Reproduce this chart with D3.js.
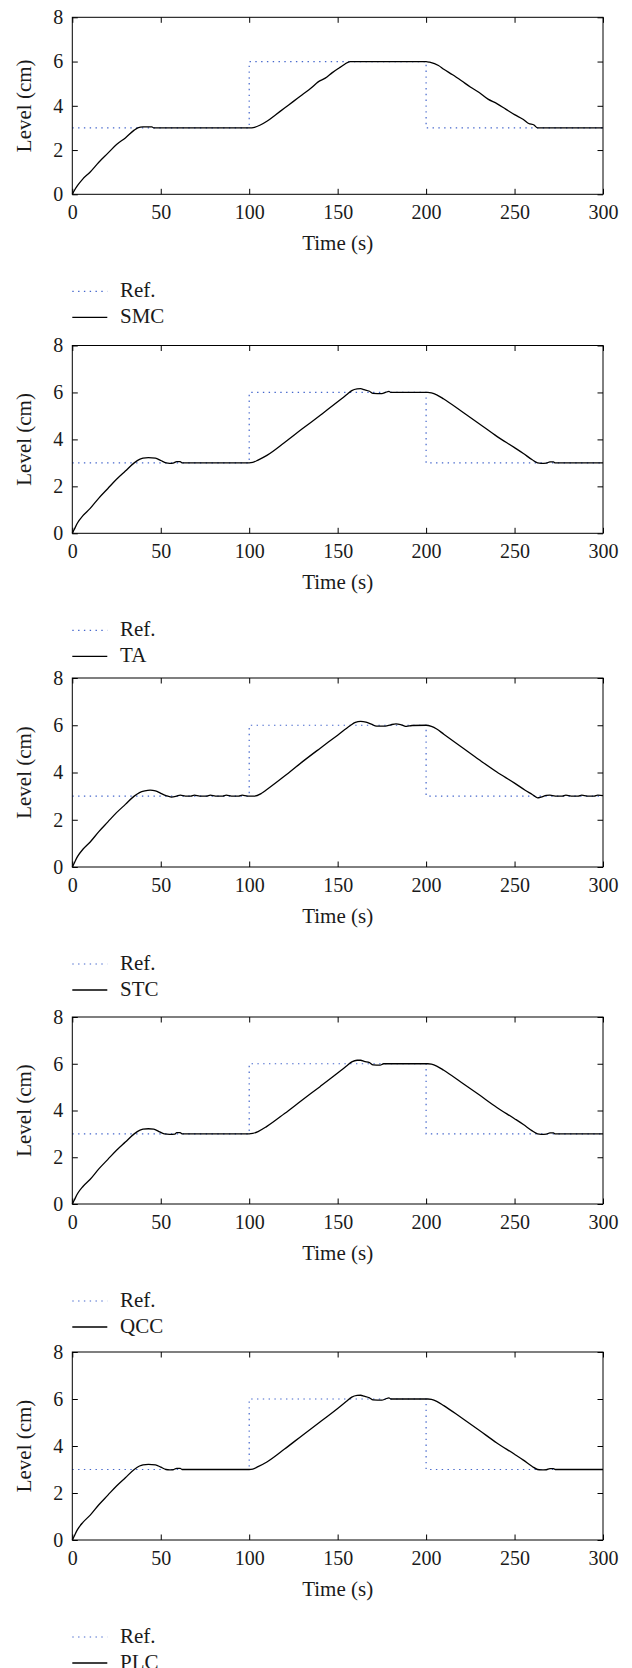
<!DOCTYPE html>
<html>
<head>
<meta charset="utf-8">
<script src="https://cdnjs.cloudflare.com/ajax/libs/d3/7.8.5/d3.min.js"></script>
<style>
  body { margin: 0; background: #fff; }
  svg text { font-family: "Liberation Serif", "DejaVu Serif", serif; fill: #1a1a1a; }
</style>
</head>
<body>
<script>
const width = 632;
const height = 1668;

const xTicks = [0, 50, 100, 150, 200, 250, 300];
const yTicks = [0, 2, 4, 6, 8];

// reference set point (cm)
const refSeries = [[0, 3], [100, 3], [100, 6], [200, 6], [200, 3], [300, 3]];

// controller responses, [time s, level cm]
const smcSeries = [[0,0],[1,0.15],[3,0.4],[6,0.7],[10,1.0],[15,1.45],[20,1.85],[25,2.25],[30,2.55],[35,2.9],[37,3.0],[40,3.05],[45,3.05],[46,3.0],
  [100,3.0],[103,3.03],[106,3.12],[110,3.3],[115,3.6],[120,3.9],[125,4.2],[130,4.5],[135,4.8],[139,5.08],[143,5.25],[147,5.5],[151,5.72],[154,5.88],[157,6.0],
  [200,6.0],[202,5.97],[207,5.82],[210,5.65],[215,5.4],[220,5.13],[225,4.85],[230,4.6],[235,4.3],[240,4.1],[245,3.85],[250,3.6],[255,3.38],[258,3.2],[261,3.13],[263,3.0],[300,3.0]];

const taSeries = [[0,0],[1,0.15],[3,0.45],[6,0.75],[10,1.05],[15,1.5],[20,1.9],[25,2.3],[30,2.65],[35,3.0],[38,3.15],[40,3.2],[43,3.22],[47,3.2],[50,3.1],[53,3.0],[55,2.98],[57,2.99],[59,3.05],[61,3.05],[62,3.0],
  [100,3.0],[102,3.02],[105,3.12],[110,3.32],[120,3.87],[130,4.45],[140,5.02],[150,5.6],[155,5.9],[158,6.08],[161,6.15],[163,6.16],[165,6.12],[168,6.05],[170,5.96],[175,5.95],[177,6.0],[179,6.05],[180,6.0],
  [201,6.0],[203,5.98],[206,5.9],[210,5.72],[220,5.2],[230,4.67],[240,4.13],[250,3.65],[255,3.4],[260,3.13],[263,3.0],[265,2.98],[268,2.99],[270,3.04],[272,3.04],[273,3.0],[300,3.0]];

const stcSeries = [[0,0],[1,0.15],[3,0.45],[6,0.75],[10,1.05],[15,1.5],[20,1.9],[25,2.3],[30,2.65],[35,3.0],[38,3.15],[41,3.22],[44,3.25],[47,3.22],[50,3.12],[53,3.02],[56,2.96],[59,3.0],[61,3.04],[64,3.0],
  [67,3.0],[69,3.04],[72,3.0],[76,3.0],[78,3.04],[81,3.0],[85,3.0],[87,3.04],[90,3.0],[94,3.0],[96,3.04],[99,3.0],[103,3.0],[107,3.12],[110,3.28],[120,3.85],[130,4.45],[140,5.02],[150,5.58],[157,5.98],
  [160,6.12],[163,6.16],[166,6.13],[169,6.05],[172,5.96],[177,5.96],[180,6.02],[183,6.06],[186,6.02],[189,5.95],[192,5.99],[200,6.0],[203,5.95],[206,5.84],[210,5.62],[220,5.08],[230,4.54],[240,4.02],
  [250,3.55],[256,3.25],[260,3.07],[263,2.93],[265,2.96],[268,3.03],[270,3.04],[273,3.0],[277,3.0],[279,3.04],[282,3.0],[286,3.0],[288,3.04],[291,3.0],[295,3.0],[297,3.04],[300,3.02]];

const qccSeries = [[0,0],[1,0.15],[3,0.45],[6,0.75],[10,1.05],[15,1.5],[20,1.9],[25,2.3],[30,2.65],[35,3.0],[38,3.15],[40,3.2],[43,3.22],[46,3.2],[49,3.1],[52,3.0],[55,2.98],[58,2.99],[59,3.05],[61,3.05],[62,3.0],
  [100,3.0],[102,3.02],[105,3.1],[110,3.32],[120,3.87],[130,4.45],[140,5.02],[150,5.6],[155,5.9],[158,6.08],[161,6.15],[163,6.15],[165,6.1],[168,6.05],[170,5.95],[174,5.94],[176,6.0],
  [201,6.0],[203,5.98],[206,5.9],[210,5.72],[220,5.2],[230,4.67],[240,4.13],[250,3.65],[255,3.4],[260,3.13],[263,3.0],[265,2.98],[268,2.99],[270,3.04],[272,3.04],[273,3.0],[300,3.0]];

const plcSeries = [[0,0],[1,0.15],[3,0.45],[6,0.75],[10,1.05],[15,1.5],[20,1.9],[25,2.3],[30,2.65],[35,3.0],[38,3.15],[40,3.2],[43,3.22],[47,3.2],[50,3.1],[53,3.0],[55,2.98],[57,2.99],[59,3.05],[61,3.05],[62,3.0],
  [100,3.0],[102,3.02],[105,3.12],[110,3.32],[120,3.87],[130,4.45],[140,5.02],[150,5.6],[155,5.9],[158,6.08],[161,6.15],[163,6.16],[165,6.12],[168,6.05],[170,5.96],[175,5.95],[177,6.0],[179,6.05],[180,6.0],
  [201,6.0],[203,5.98],[206,5.9],[210,5.72],[220,5.2],[230,4.67],[240,4.13],[250,3.65],[255,3.4],[260,3.13],[263,3.0],[265,2.98],[268,2.99],[270,3.04],[272,3.04],[273,3.0],[300,3.0]];

const names = ["SMC", "TA", "STC", "QCC", "PLC"];
const responses = [smcSeries, taSeries, stcSeries, qccSeries, plcSeries];

// plot area of each panel (top, bottom in px)
const panelBox = [[17.3, 194.3], [345.5, 533.3], [678, 867], [1017, 1204], [1352, 1540]];
const left = 72.3, right = 603;

const svg = d3.select("body").append("svg")
    .attr("width", width)
    .attr("height", height);

const x = d3.scaleLinear().domain([0, 300]).range([left, right]);

names.forEach((name, i) => {
    const [top, bottom] = panelBox[i];
    const y = d3.scaleLinear().domain([0, 8]).range([bottom, top]);
    const g = svg.append("g");

    const line = d3.line().x(d => x(d[0])).y(d => y(d[1]));

    g.append("path") //reference
        .attr("d", line(refSeries))
        .attr("fill", "none")
        .attr("stroke", "#4466cc")
        .attr("stroke-width", 1.2)
        .attr("stroke-dasharray", "1.4,4.4");

    g.append("path") //response
        .attr("d", line.curve(d3.curveMonotoneX)(responses[i]))
        .attr("fill", "none")
        .attr("stroke", "#000")
        .attr("stroke-width", 1.3);

    //axes, ticks pointing inward
    const ax = (axis, tx, ty, labels) => {
        const a = g.append("g")
            .attr("transform", `translate(${tx},${ty})`)
            .call(axis.tickSizeInner(-5.5).tickSizeOuter(0));
        a.select(".domain").remove();
        a.selectAll("line").attr("stroke", "#000");
        if (!labels) a.selectAll("text").remove();
        else a.selectAll("text").attr("fill", "#1a1a1a").style("font-size", "20px");
        return a;
    };
    ax(d3.axisBottom(x).tickValues(xTicks).tickPadding(10.5), 0, bottom, true);
    ax(d3.axisTop(x).tickValues(xTicks), 0, top, false);
    ax(d3.axisLeft(y).tickValues(yTicks).tickPadding(9), left, 0, true);
    ax(d3.axisRight(y).tickValues(yTicks), right, 0, false);

    g.append("rect")
        .attr("x", left).attr("y", top)
        .attr("width", right - left).attr("height", bottom - top)
        .attr("fill", "none").attr("stroke", "#000").attr("stroke-width", 1);

    g.append("text") //x label
        .attr("x", (left + right) / 2)
        .attr("y", bottom + 56)
        .attr("text-anchor", "middle")
        .style("font-size", "21px")
        .text("Time (s)");

    g.append("text") //y label
        .attr("transform", `translate(31,${(top + bottom) / 2}) rotate(-90)`)
        .attr("text-anchor", "middle")
        .style("font-size", "21px")
        .text("Level (cm)");

    //legend
    const lg = g.append("g").attr("transform", `translate(0,${bottom})`);
    lg.append("line")
        .attr("x1", 72.3).attr("x2", 107.3).attr("y1", 97).attr("y2", 97)
        .attr("stroke", "#4466cc").attr("stroke-width", 1.2).attr("stroke-dasharray", "1.4,4.4");
    lg.append("text").attr("x", 120).attr("y", 102.5).style("font-size", "21px").text("Ref.");
    lg.append("line")
        .attr("x1", 72.3).attr("x2", 107.3).attr("y1", 123).attr("y2", 123)
        .attr("stroke", "#000").attr("stroke-width", 1.3);
    lg.append("text").attr("x", 120).attr("y", 129).style("font-size", "21px").text(name);
});
</script>
</body>
</html>
